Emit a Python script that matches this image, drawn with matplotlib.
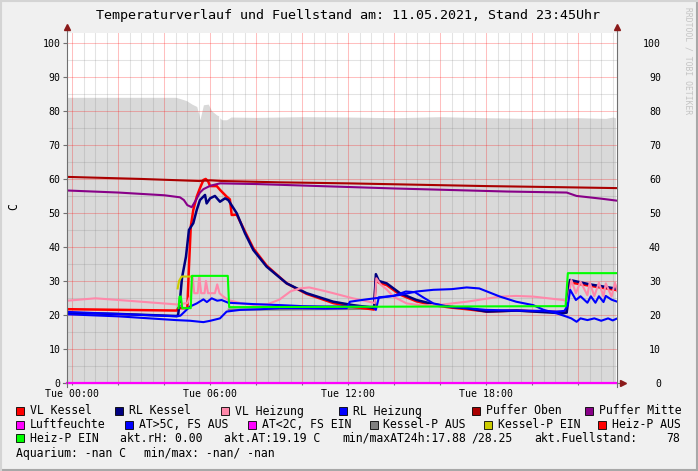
import numpy as np
import matplotlib.pyplot as plt
from matplotlib.patches import Rectangle
from matplotlib.ticker import MultipleLocator

##DATA##########################################################################
# time axis in hours since Tue 00:00
fuell_t = [-0.22, 4.5, 4.75, 4.97, 5.2, 5.41, 5.5, 5.55, 5.62, 5.7, 5.91, 6.06,
           6.28, 6.36, 6.375, 6.395, 6.41, 6.5, 6.71, 6.9, 8, 10, 12, 14, 16, 18, 20,
           22, 23.2, 23.5, 23.62]
fuell_v = [84, 84, 83.5, 83, 82, 81.3, 79, 77.4, 79.5, 81.8, 82, 80,
           78.8, 78.6, 60.6, 60.6, 78, 77.4, 77.4, 78.2, 78.1, 78.3, 78.2, 78, 78.3, 78, 77.8,
           78, 77.8, 78.2, 78]

oben_t = [-0.22, 3, 5.5, 6.0, 6.5, 9, 12, 15, 18, 21, 23.7]
oben_v = [60.6, 60.0, 59.4, 59.6, 59.4, 59.0, 58.7, 58.3, 57.9, 57.6, 57.3]

mitte_t = [-0.22, 2, 4.0, 4.68, 4.85, 5.0, 5.19, 5.35, 5.55, 5.7, 6.0, 6.42, 8,
           10.3, 14, 18.9, 21.5, 21.93, 23.0, 23.7]
mitte_v = [56.6, 56, 55.2, 54.6, 53.8, 52.3, 51.7, 53.5, 56, 57, 58, 58.7, 58.5,
           58.0, 57.2, 56.3, 56.0, 55.0, 54.2, 53.6]

rlk_t = [-0.22, 2, 4.54, 4.6, 4.68, 4.77, 4.94, 5.07, 5.26, 5.41, 5.55, 5.77,
         5.84, 5.99, 6.2, 6.42, 6.64, 6.78, 7.15, 7.51, 7.87, 8.45, 9.32, 10.19,
         11.35, 12.2, 12.9, 13.12, 13.2, 13.33, 13.67, 14.25, 14.97, 15.7, 16.43,
         17.15, 18.02, 19.32, 21.35, 21.5, 21.64, 22.5, 23.7]
rlk_v = [20.6, 20.3, 19.7, 20, 24.4, 31, 37.1, 45, 47, 50.9, 53.8, 55.3,
         52.8, 54.3, 55, 53.3, 54.3, 53.8, 49.9, 44, 39.1, 34.2, 29.3, 26.4,
         23.9, 22.9, 22.3, 22.0, 32, 30, 29.3, 26.4, 24.4, 23.2, 22.4,
         22, 21, 21.3, 20.5, 20.7, 30.3, 29.0, 27.7]

vlk_t = [-0.22, 4.54, 4.6, 5.0, 5.07, 5.15, 5.26, 5.41, 5.55, 5.7, 5.8, 5.91,
         5.99, 6.28, 6.42, 6.71, 6.85, 6.93, 7.15, 7.51, 7.87, 8.45, 9.32, 10.19,
         11.35, 12.2, 12.9, 13.12, 13.2, 13.33, 13.67, 14.25, 14.97, 15.7, 16.43,
         17.15, 18.02, 19.3, 21.35, 21.5, 21.62, 22.5, 23.7]
vlk_v = [21.7, 21.3, 22, 22, 34, 46, 50.9, 54.8, 57.3, 59.7, 60, 59.2,
         57.9, 57.9, 56.8, 54.8, 54, 49.4, 49.5, 44.5, 39.6, 34.5, 29.3, 26.2,
         23.5, 22.4, 21.8, 21.6, 30.8, 29.5, 28.8, 26, 24, 22.9, 22.2,
         21.7, 21, 21.3, 20.8, 21.1, 29.6, 28.6, 27.3]

vlh_t = [-0.22, 1.0, 2.4, 4.55, 5.0, 5.15, 5.23, 5.3, 5.45, 5.52, 5.6, 5.75,
         5.81, 5.9, 6.2, 6.3, 6.4, 6.55, 6.78, 7.3, 7.87, 8.5, 9.0, 9.5, 9.9,
         10.3, 11.0, 11.35, 12.2, 12.9, 13.15, 13.22, 13.4, 13.67, 13.96, 14.54,
         15.2, 16.0, 17.15, 18.6, 19.3, 20.05, 21.35, 21.55, 21.7, 21.9, 22.1,
         22.4, 22.5, 22.7, 22.9, 23.1, 23.2, 23.45, 23.6, 23.7]
vlh_v = [24.2, 24.9, 24.2, 23.1, 23.5, 26, 31.5, 26.4, 26.4, 31.5, 26.4, 26.4,
         30, 26.4, 26.4, 29, 26.4, 25.5, 24.4, 23.5, 23.0, 23.2, 24.5, 27, 27.8,
         28.1, 27, 26.4, 24.9, 23.9, 23.5, 30.8, 29, 27.5, 25.4, 23.4,
         22.8, 23, 23.9, 25.4, 25.6, 25.4, 24.4, 24.0, 30.3, 26.4, 29.8,
         25.8, 29.6, 25.5, 29.5, 25.4, 29.3, 25.4, 29.5, 27]

rlh_t = [-0.22, 2, 4.55, 4.7, 5.12, 5.41, 5.7, 5.85, 6.06, 6.3, 6.49, 6.78,
         7.87, 9.04, 10, 11, 12, 13.1, 13.2, 13.33, 13.96, 14.5, 14.9, 15.3,
         15.7, 16.4, 17.15, 18, 19.3, 20.5, 21.06, 21.4, 21.55, 21.65, 21.9,
         22.1, 22.4, 22.55, 22.75, 22.9, 23.1, 23.2, 23.45, 23.7]
rlh_v = [20.9, 20.3, 19.6, 19.8, 22.5, 23.4, 24.6, 23.8, 24.9, 24.2, 24.4, 23.6,
         23.2, 22.9, 22.6, 22.5, 22.5, 22.4, 21.5, 25.2, 25.6, 26.9, 26.7, 25,
         23.4, 22.4, 22, 21.5, 21.3, 21.2, 21.0, 21.2, 22.9, 27.4, 24.4,
         25.5, 23.6, 25.5, 23.6, 25.5, 23.8, 25.6, 24.5, 23.9]

at_t = [-0.22, 2, 4.5, 5.12, 5.55, 5.7, 6.0, 6.42, 6.71, 7.3, 8.2, 9.04, 10,
        11, 11.93, 12.07, 12.8, 13.5, 14.25, 14.97, 15.7, 16.5, 17.15, 17.7,
        18.6, 19.3, 20.04, 20.5, 21.06, 21.5, 21.7, 21.93, 22.1, 22.4, 22.7,
        23.0, 23.3, 23.5, 23.7]
at_v = [20.2, 19.6, 18.5, 18.3, 18.0, 17.9, 18.3, 19.0, 21, 21.5, 21.7, 22, 22,
        21.9, 22, 23.9, 24.6, 25.2, 25.9, 26.9, 27.4, 27.6, 28.1, 27.8,
        25.4, 23.9, 22.9, 21.5, 20.5, 19.5, 19.0, 18.0, 19, 18.5, 19,
        18.3, 19, 18.4, 19]

kp_aus_t = [6.8, 9, 11, 13.1]
kp_aus_v = [21.6, 21.6, 21.7, 21.8]

kp_ein_t = [4.58, 4.64, 4.75, 5.2]
kp_ein_v = [27.8, 30.0, 31.3, 31.3]

hp_ein_t = [4.62, 4.66, 4.72, 4.78, 5.15, 5.2, 6.76, 6.82, 21.45, 21.55, 23.7]
hp_ein_v = [22, 25.4, 25.4, 22, 22, 31.5, 31.5, 22.3, 22.6, 32.3, 32.3]

luft_t = [-0.22, 23.7]
luft_v = [0, 0]

tick_hours = [0, 6, 12, 18]
tick_labels = ['Tue 00:00', 'Tue 06:00', 'Tue 12:00', 'Tue 18:00']

legend_rows = [
    [('VL Kessel', '#ff0000'), ('RL Kessel', '#000080'), ('VL Heizung', '#ff88aa'),
     ('RL Heizung', '#0000ff'), ('Puffer Oben', '#aa0000'), ('Puffer Mitte', '#880088')],
    [('Luftfeuchte', '#ff00ff'), ('AT>5C, FS AUS', '#0000ff'), ('AT<2C, FS EIN', '#ff00ff'),
     ('Kessel-P AUS', '#808080'), ('Kessel-P EIN', '#cccc00'), ('Heiz-P AUS', '#ff0000')],
    [('Heiz-P EIN', '#00ff00')],
]
info_texts = ['akt.rH: 0.00', 'akt.AT:19.19 C', 'min/maxAT24h:17.88', '/28.25',
              'akt.Fuellstand:', '78']
aquarium_texts = ['Aquarium: -nan C', 'min/max: -nan/ -nan']
################################################################################

W, H = 698, 471
MONO = 'DejaVu Sans Mono'
plt.rcParams['font.family'] = MONO

fig = plt.figure(figsize=(W / 100, H / 100), dpi=100, facecolor='#f0f0f0')
ax = fig.add_axes([67.3 / W, 88 / H, 550 / W, 350.3 / H])
ax.set_facecolor('white')
ax.set_xlim(-0.22, 23.70)
ax.set_ylim(0, 103)

ax.fill_between(fuell_t, 0, fuell_v, color='#d9d9d9', lw=0, zorder=1)

lw = 1.5
ax.plot(vlk_t, vlk_v, color='#ff0000', lw=1.8, zorder=2)
ax.plot(rlk_t, rlk_v, color='#000080', lw=1.8, zorder=2.1)
ax.plot(vlh_t, vlh_v, color='#ff88aa', lw=lw, zorder=2.2)
ax.plot(rlh_t, rlh_v, color='#0000ff', lw=lw, zorder=2.3)
ax.plot(oben_t, oben_v, color='#aa0000', lw=lw, zorder=2.4)
ax.plot(mitte_t, mitte_v, color='#880088', lw=lw, zorder=2.5)
ax.plot(at_t, at_v, color='#0000ff', lw=lw, zorder=2.6)
ax.plot(kp_aus_t, kp_aus_v, color='#808080', lw=lw, zorder=1.9)
ax.plot(kp_ein_t, kp_ein_v, color='#cccc00', lw=lw, zorder=2.7)
ax.plot(hp_ein_t, hp_ein_v, color='#00ff00', lw=lw, zorder=2.8)
ax.plot(luft_t, luft_v, color='#ff00ff', lw=1.6, zorder=5, clip_on=False)

# grid
ax.set_axisbelow('line')
ax.set_xticks(np.arange(0, 24, 2))
ax.set_xticklabels([tick_labels[tick_hours.index(h)] if h in tick_hours else ''
                    for h in range(0, 24, 2)])
ax.xaxis.set_minor_locator(MultipleLocator(0.5))
ax.set_yticks(np.arange(0, 101, 10))
ax.yaxis.set_minor_locator(MultipleLocator(5))
ax.grid(which='major', color='#ff0000', alpha=0.25, lw=0.75)
ax.grid(which='minor', color='#808080', alpha=0.22, lw=0.75)
for s in ax.spines.values():
    s.set_visible(False)
ax.tick_params(axis='x', which='major', length=1.5, pad=3, labelsize=7.1, color='#707070')
ax.tick_params(axis='y', which='major', length=2.9, pad=2.1, labelsize=7.1, color='#707070',
               labelright=True)
ax.tick_params(which='minor', length=0)
ax.tick_params(axis='y', which='major', right=False, pad=2.1)
for tk in ax.yaxis.get_major_ticks():
    tk.label2.set_horizontalalignment('right')
    tk.set_pad(2.1)
for tk in ax.yaxis.get_major_ticks():
    tk.label2.set_x(1 + 36.7 / 550)

# axis lines and arrows
ax.plot([0, 0], [-0.01, 1.012], transform=ax.transAxes, color='#707070', lw=0.8,
        clip_on=False, zorder=6)
ax.plot([1, 1], [-0.01, 1.012], transform=ax.transAxes, color='#707070', lw=0.8,
        clip_on=False, zorder=6)
ax.plot([-0.007, 1.01], [0, 0], transform=ax.transAxes, color='#707070', lw=0.8,
        clip_on=False, zorder=4)
ax.plot([0, 1], [1.016, 1.016], transform=ax.transAxes, ls='none', marker='^',
        ms=4.5, color='#8b1a1a', clip_on=False, zorder=7)
ax.plot([1.011], [0], transform=ax.transAxes, ls='none', marker='>',
        ms=4.5, color='#8b1a1a', clip_on=False, zorder=7)

fig.text(348 / W, 1 - 16 / H, 'Temperaturverlauf und Fuellstand am: 11.05.2021, Stand 23:45Uhr',
         ha='center', va='center', fontsize=9.6)
fig.text(14 / W, 1 - 207 / H, 'C', rotation=90, ha='center', va='center', fontsize=8.3)
fig.text(688 / W, 1 - 7 / H, 'RRDTOOL / TOBI OETIKER', rotation=270, ha='center', va='top',
         fontsize=5.8, color='#c4c4c4')

# legend
square_x = [[16, 114.9, 221.3, 339.3, 472, 584.6],
            [16, 124.7, 248, 369.5, 484, 598],
            [16]]
row_y = [411, 425, 438, 453]
for r, row in enumerate(legend_rows):
    for (label, col), sx in zip(row, square_x[r]):
        fig.patches.append(Rectangle((sx / W, 1 - (row_y[r] + 4) / H), 8 / W, 8 / H,
                                     transform=fig.transFigure, facecolor=col,
                                     edgecolor='black', lw=0.6))
        fig.text((sx + 14) / W, 1 - row_y[r] / H, label, ha='left', va='center', fontsize=8.3)
for txt, tx in zip(info_texts, [120.2, 224, 342, 471, 534.3, 666.5]):
    fig.text(tx / W, 1 - row_y[2] / H, txt, ha='left', va='center', fontsize=8.3)
for txt, tx in zip(aquarium_texts, [16, 143.8]):
    fig.text(tx / W, 1 - row_y[3] / H, txt, ha='left', va='center', fontsize=8.3)

# frame
fig.add_artist(plt.Line2D([0, 1], [1 / H, 1 / H], transform=fig.transFigure, color='#a8a8a8', lw=1.5))
fig.add_artist(plt.Line2D([1 - 1 / W, 1 - 1 / W], [0, 1], transform=fig.transFigure, color='#a8a8a8', lw=1.5))
fig.add_artist(plt.Line2D([0, 1], [1 - 1 / H, 1 - 1 / H], transform=fig.transFigure, color='#d4d4d4', lw=1.5))
fig.add_artist(plt.Line2D([1 / W, 1 / W], [0, 1], transform=fig.transFigure, color='#d4d4d4', lw=1.5))

fig.savefig('out.png', dpi=100, facecolor=fig.get_facecolor())
